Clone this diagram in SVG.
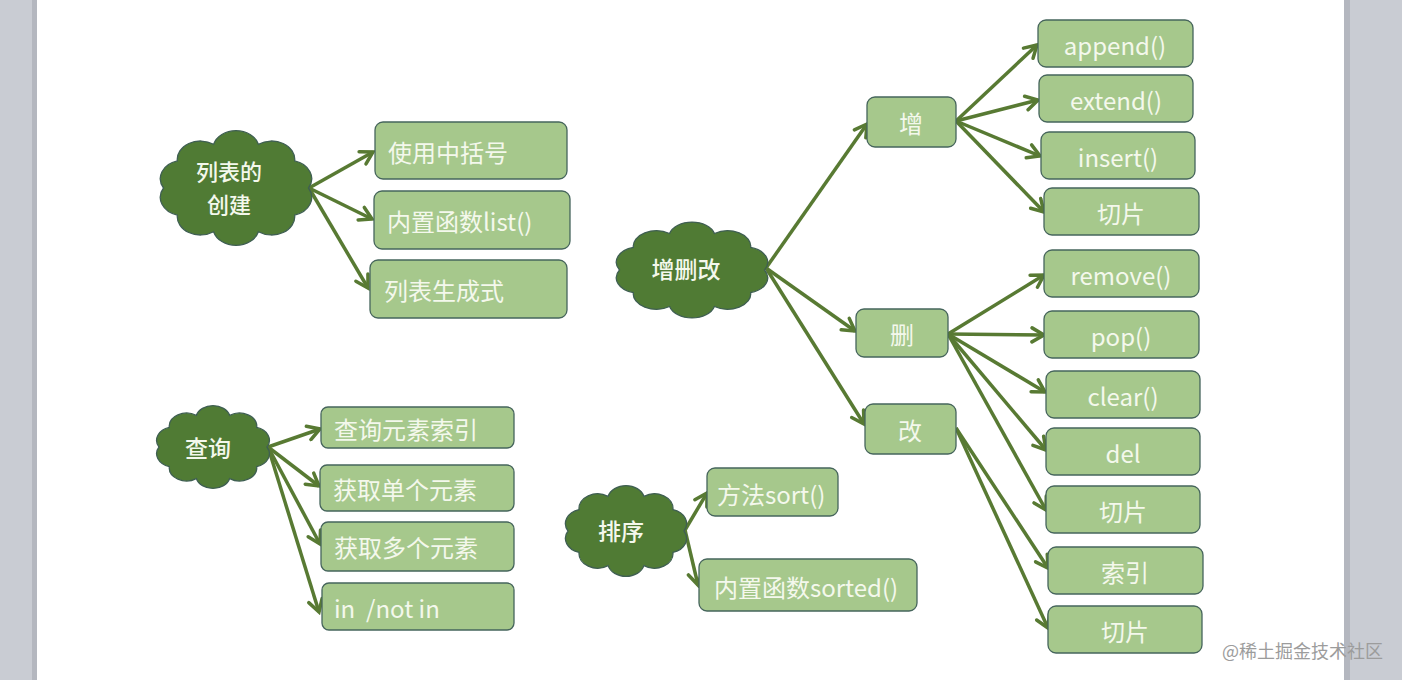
<svg xmlns="http://www.w3.org/2000/svg" xmlns:xlink="http://www.w3.org/1999/xlink" width="1402" height="680" viewBox="0 0 1402 680">
<style>
.box{fill:#a6c88c;stroke:#46655c;stroke-width:1.3}
.cloud{fill:#507b34;stroke:#3f5f52;stroke-width:1.3}
.t{font-family:"Noto Sans CJK SC","Noto Sans",sans-serif;font-size:24px;fill:#f4f8ec;dominant-baseline:central}
.tc{text-anchor:middle}
.ct{font-size:23px;font-weight:500}
.ct2{font-size:22px}
.edge{stroke:#587a33;stroke-width:3.5;fill:none;marker-end:url(#arr)}
</style>
<defs>
<marker id="arr" markerUnits="userSpaceOnUse" markerWidth="18" markerHeight="18" viewBox="0 0 18 18" refX="15" refY="9" orient="auto">
<path d="M3,2 L15,9 L3,16" fill="none" stroke="#587a33" stroke-width="3.5" stroke-linecap="round"/>
</marker>
<path id="cloudp" vector-effect="non-scaling-stroke" d="M50,0 A16,16 0 0 1 40.45,23.51 A16,16 0 0 1 15.45,38.04 A16,16 0 0 1 -15.45,38.04 A16,16 0 0 1 -40.45,23.51 A16,16 0 0 1 -50,0 A16,16 0 0 1 -40.45,-23.51 A16,16 0 0 1 -15.45,-38.04 A16,16 0 0 1 15.45,-38.04 A16,16 0 0 1 40.45,-23.51 A16,16 0 0 1 50,0 Z"/>
</defs>
<rect x="0" y="0" width="1402" height="680" fill="#ffffff"/>
<rect x="0" y="0" width="37" height="680" fill="#c9ccd3"/>
<rect x="32" y="0" width="5" height="680" fill="#b4b7bf"/>
<rect x="1344" y="0" width="58" height="680" fill="#c9ccd3"/>
<rect x="1344" y="0" width="6" height="680" fill="#b4b7bf"/>

<g id="connectors">
<line class="edge" x1="309" y1="188" x2="373" y2="152"/>
<line class="edge" x1="309" y1="188" x2="372" y2="219"/>
<line class="edge" x1="309" y1="188" x2="368" y2="288"/>
<line class="edge" x1="766" y1="268" x2="867" y2="124"/>
<line class="edge" x1="766" y1="268" x2="855" y2="331"/>
<line class="edge" x1="766" y1="268" x2="864" y2="424"/>
<line class="edge" x1="956" y1="121" x2="1037" y2="45"/>
<line class="edge" x1="956" y1="121" x2="1038" y2="100"/>
<line class="edge" x1="956" y1="121" x2="1040" y2="156"/>
<line class="edge" x1="956" y1="121" x2="1044" y2="212"/>
<line class="edge" x1="948" y1="334" x2="1044" y2="275"/>
<line class="edge" x1="948" y1="334" x2="1044" y2="335"/>
<line class="edge" x1="948" y1="334" x2="1045" y2="392"/>
<line class="edge" x1="948" y1="334" x2="1046" y2="450"/>
<line class="edge" x1="948" y1="334" x2="1046" y2="510"/>
<line class="edge" x1="956" y1="428" x2="1048" y2="568"/>
<line class="edge" x1="956" y1="428" x2="1048" y2="628"/>
<line class="edge" x1="268" y1="447" x2="320" y2="429"/>
<line class="edge" x1="268" y1="447" x2="319" y2="486"/>
<line class="edge" x1="268" y1="447" x2="320" y2="544"/>
<line class="edge" x1="268" y1="447" x2="319" y2="612"/>
<line class="edge" x1="685" y1="530" x2="707" y2="493"/>
<line class="edge" x1="685" y1="530" x2="698" y2="585"/>
</g>

<g id="n-create">
<use xlink:href="#cloudp" class="cloud" transform="translate(236,188) scale(1.45,1.15)"/>
<text class="t tc ct ct2" x="229" y="170">列表的</text>
<text class="t tc ct ct2" x="229" y="203">创建</text>
</g>
<g id="n-create-1"><rect class="box" x="375" y="122" width="192" height="57" rx="8"/><text class="t" x="388" y="151">使用中括号</text></g>
<g id="n-create-2"><rect class="box" x="374" y="191" width="196" height="58" rx="8"/><text class="t" x="387" y="220">内置函数list()</text></g>
<g id="n-create-3"><rect class="box" x="370" y="260" width="197" height="58" rx="8"/><text class="t" x="384" y="289">列表生成式</text></g>

<g id="n-crud">
<use xlink:href="#cloudp" class="cloud" transform="translate(692,270) scale(1.45,0.96)"/>
<text class="t tc ct" x="686" y="268">增删改</text>
</g>
<g id="n-add"><rect class="box" x="867" y="97" width="89" height="50" rx="8"/><text class="t tc" x="911" y="122">增</text></g>
<g id="n-del"><rect class="box" x="856" y="309" width="92" height="48" rx="8"/><text class="t tc" x="902" y="333">删</text></g>
<g id="n-mod"><rect class="box" x="865" y="404" width="91" height="50" rx="8"/><text class="t tc" x="910" y="429">改</text></g>

<g id="n-append"><rect class="box" x="1038" y="20" width="155" height="47" rx="8"/><text class="t tc" x="1115" y="44">append()</text></g>
<g id="n-extend"><rect class="box" x="1039" y="75" width="154" height="47" rx="8"/><text class="t tc" x="1116" y="99">extend()</text></g>
<g id="n-insert"><rect class="box" x="1041" y="132" width="154" height="47" rx="8"/><text class="t tc" x="1118" y="156">insert()</text></g>
<g id="n-slice1"><rect class="box" x="1044" y="188" width="155" height="47" rx="8"/><text class="t tc" x="1121" y="212">切片</text></g>
<g id="n-remove"><rect class="box" x="1044" y="250" width="155" height="47" rx="8"/><text class="t tc" x="1121" y="274">remove()</text></g>
<g id="n-pop"><rect class="box" x="1044" y="311" width="155" height="47" rx="8"/><text class="t tc" x="1121" y="335">pop()</text></g>
<g id="n-clear"><rect class="box" x="1046" y="371" width="154" height="47" rx="8"/><text class="t tc" x="1123" y="395">clear()</text></g>
<g id="n-delkw"><rect class="box" x="1046" y="428" width="154" height="47" rx="8"/><text class="t tc" x="1123" y="452">del</text></g>
<g id="n-slice2"><rect class="box" x="1046" y="486" width="154" height="47" rx="8"/><text class="t tc" x="1123" y="510">切片</text></g>
<g id="n-index"><rect class="box" x="1048" y="547" width="155" height="47" rx="8"/><text class="t tc" x="1125" y="571">索引</text></g>
<g id="n-slice3"><rect class="box" x="1048" y="606" width="154" height="47" rx="8"/><text class="t tc" x="1125" y="630">切片</text></g>

<g id="n-query">
<use xlink:href="#cloudp" class="cloud" transform="translate(213,447) scale(1.08,0.83)"/>
<text class="t tc ct" x="208" y="447">查询</text>
</g>
<g id="n-q1"><rect class="box" x="321" y="407" width="193" height="41" rx="7"/><text class="t" x="334" y="428">查询元素索引</text></g>
<g id="n-q2"><rect class="box" x="320" y="465" width="194" height="46" rx="7"/><text class="t" x="333" y="488">获取单个元素</text></g>
<g id="n-q3"><rect class="box" x="321" y="522" width="193" height="49" rx="7"/><text class="t" x="334" y="546">获取多个元素</text></g>
<g id="n-q4"><rect class="box" x="322" y="583" width="192" height="47" rx="7"/><text class="t" x="334" y="607" xml:space="preserve">in  /not in</text></g>

<g id="n-sort">
<use xlink:href="#cloudp" class="cloud" transform="translate(626,531) scale(1.16,0.91)"/>
<text class="t tc ct" x="621" y="530">排序</text>
</g>
<g id="n-sort1"><rect class="box" x="707" y="468" width="131" height="48" rx="8"/><text class="t" x="717" y="493">方法sort()</text></g>
<g id="n-sort2"><rect class="box" x="699" y="559" width="218" height="52" rx="8"/><text class="t" x="714" y="586">内置函数sorted()</text></g>

<text x="1222" y="650" font-family="'Noto Sans CJK SC','Noto Sans',sans-serif" font-size="18" fill="#9c9c9c" dominant-baseline="central">@稀土掘金技术社区</text>
</svg>
